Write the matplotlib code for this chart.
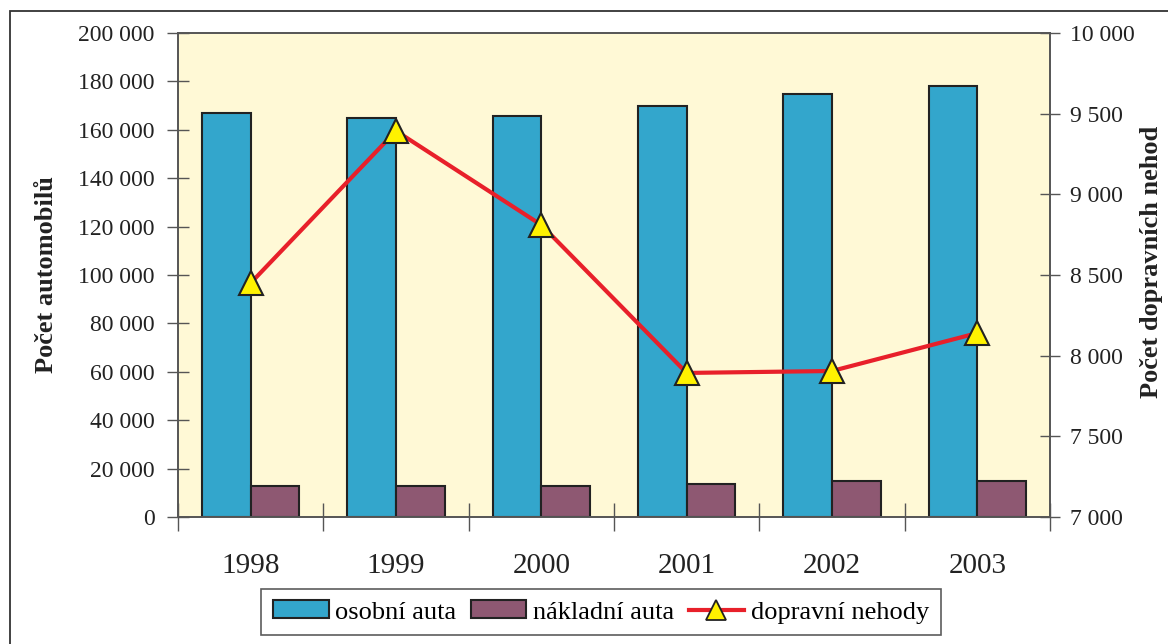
import matplotlib
matplotlib.use("Agg")
import matplotlib.pyplot as plt
import numpy as np
from matplotlib.patches import Rectangle, Patch
from matplotlib.lines import Line2D
from matplotlib.ticker import FuncFormatter, FixedLocator

years = ["1998", "1999", "2000", "2001", "2002", "2003"]
osobni_auta = [167000, 165000, 165700, 169800, 174800, 178100]
nakladni_auta = [12800, 12800, 12800, 13500, 15000, 15000]
dopravni_nehody = [8450, 9393, 8810, 7893, 7905, 8140]

plt.rcParams['font.family'] = ['Liberation Serif', 'DejaVu Serif']

W, H = 1168, 644
fig = plt.figure(figsize=(W / 100, H / 100), dpi=100)
fig.patch.set_facecolor('white')

# outer frame (runs off the right and bottom edges)
fig.patches.append(Rectangle((10 / W, -20 / H), (W + 20) / W, (H + 20 - 11) / H, transform=fig.transFigure,
                             fill=False, edgecolor='#333333', linewidth=1.3))

ax = fig.add_axes([178 / W, (H - 517) / H, (1050 - 178) / W, (517 - 33) / H])
ax.set_facecolor('#FFF9D6')

x = np.arange(len(years))
bw = 0.335
ax.bar(x - 0.168, osobni_auta, width=bw, color='#33A6CC', edgecolor='#222222', linewidth=1.5, zorder=2)
ax.bar(x + 0.168, nakladni_auta, width=bw, color='#8E5872', edgecolor='#222222', linewidth=1.5, zorder=2)

ax.set_xlim(-0.5, len(years) - 0.5)
ax.set_ylim(0, 200000)
ax.set_yticks(np.arange(0, 200001, 20000))
fmt = FuncFormatter(lambda v, p: format(int(v), ',').replace(',', ' '))
ax.yaxis.set_major_formatter(fmt)
ax.set_xticks(x)
ax.set_xticklabels(years)
ax.xaxis.set_minor_locator(FixedLocator(np.arange(-0.5, len(years), 1.0)))
ax.tick_params(axis='x', which='major', length=0, pad=26, labelsize=21, colors='#222222')
ax.tick_params(axis='x', which='minor', direction='inout', length=20, width=1, color='#555555')
ax.tick_params(axis='y', direction='inout', length=16, width=1, color='#555555', pad=9,
               labelsize=17, labelcolor='#222222')
for s in ax.spines.values():
    s.set_color('#555555')
    s.set_linewidth(1.2)
ax.set_ylabel('Počet automobilů', fontsize=19, fontweight='bold', labelpad=14, color='#222222')

ax2 = ax.twinx()
ax2.plot(x, dopravni_nehody, color='#E8202A', linewidth=3, marker='^', markersize=17,
         markerfacecolor='#FFF200', markeredgecolor='#222222', markeredgewidth=1.5, zorder=3)
ax2.set_ylim(7000, 10000)
ax2.set_yticks(np.arange(7000, 10001, 500))
ax2.yaxis.set_major_formatter(fmt)
ax2.tick_params(axis='y', direction='inout', length=15, width=1, color='#555555', pad=7,
                labelsize=17, labelcolor='#222222')
for s in ax2.spines.values():
    s.set_color('#555555')
    s.set_linewidth(1.2)
ax2.set_ylabel('Počet dopravních nehod', fontsize=19, fontweight='bold', labelpad=4, color='#222222')
ax2.yaxis.label.set_y(0.527)

handles = [
    Patch(facecolor='#33A6CC', edgecolor='#222222', linewidth=1.5),
    Patch(facecolor='#8E5872', edgecolor='#222222', linewidth=1.5),
    Line2D([0], [0], color='#E8202A', linewidth=3, marker='^', markersize=14,
           markerfacecolor='#FFF200', markeredgecolor='#222222', markeredgewidth=1.3),
]
labels = ['osobní auta', 'nákladní auta', 'dopravní nehody']
leg = fig.legend(handles, labels, loc='center', bbox_to_anchor=(601 / W, 32 / H), ncol=3,
                 fontsize=19, frameon=True, fancybox=False, edgecolor='#333333',
                 handlelength=2.1, handleheight=0.65, handletextpad=0.25, columnspacing=0.55,
                 borderpad=0.45, borderaxespad=0)
leg.get_frame().set_linewidth(1.2)

fig.savefig('out.png', dpi=100)
